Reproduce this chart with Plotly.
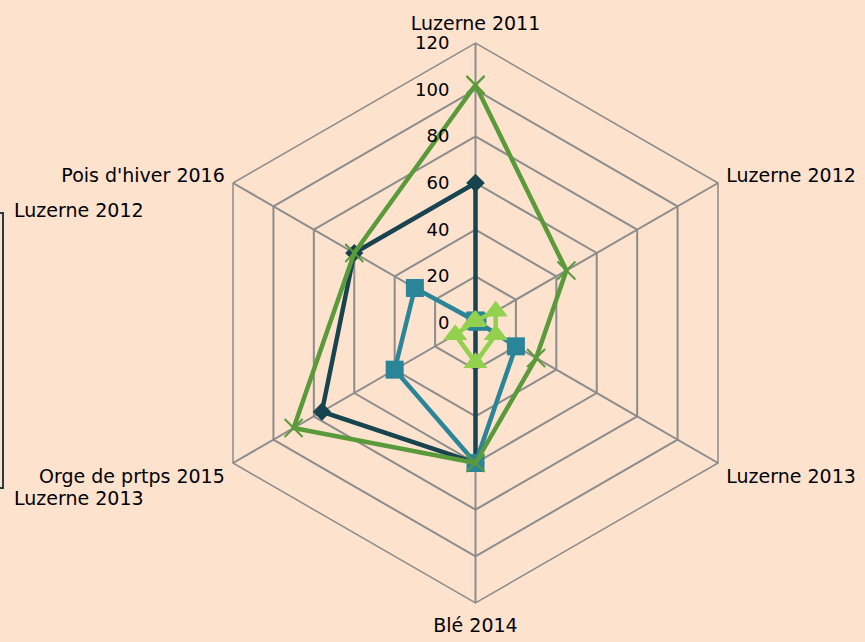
import plotly.graph_objects as go

categories = ["Luzerne 2011", "Luzerne 2012", "Luzerne 2013", "Blé 2014",
              "Orge de prtps 2015", "Pois d'hiver 2016"]
series_dark = [60, 0, 0, 60, 76, 60]
series_teal = [1, 1, 20, 60, 40, 30]
series_green = [102, 45, 30, 60, 90, 60]
series_light = [1, 10, 10, 17, 10, 1]
radial_ticks = [0, 20, 40, 60, 80, 100, 120]
legend_texts = ["Luzerne 2012", "Luzerne 2013"]

BG = "#FDE2CE"
GRID = "#8C8C8C"
FONT = "DejaVu Sans"

def closed(v):
    return list(v) + [v[0]]

theta = closed(categories)

# radial labels: right-padded with nbsp so they sit left of the vertical axis
radial_text = [str(v) + "\u00a0" * 4 for v in radial_ticks]

fig = go.Figure()
fig.add_trace(go.Scatterpolar(
    r=closed(series_dark), theta=theta, mode="lines+markers",
    line=dict(color="#17444F", width=4.5),
    marker=dict(symbol="diamond", size=14, color="#17444F"),
    name="s1"))
fig.add_trace(go.Scatterpolar(
    r=closed(series_teal), theta=theta, mode="lines+markers",
    line=dict(color="#2A8599", width=4.5),
    marker=dict(symbol="square", size=18, color="#2A8599"),
    name="s2"))
fig.add_trace(go.Scatterpolar(
    r=closed(series_green), theta=theta, mode="lines+markers",
    line=dict(color="#5B9A3A", width=4.5),
    marker=dict(symbol="x-thin", size=18, line=dict(color="#5B9A3A", width=2)),
    name="s3"))
fig.add_trace(go.Scatterpolar(
    r=closed(series_light), theta=theta, mode="lines+markers",
    line=dict(color="#92D050", width=4.5),
    marker=dict(symbol="triangle-up", size=21, color="#92D050"),
    name="s4"))

W, H = 865, 642
cx, cy, R = 475.5, 323, 280
fig.update_layout(
    width=W, height=H,
    paper_bgcolor=BG, plot_bgcolor=BG,
    margin=dict(l=0, r=0, t=0, b=0),
    showlegend=False,
    font=dict(family=FONT, size=19, color="#000000"),
    polar=dict(
        bgcolor=BG,
        gridshape="linear",
        domain=dict(x=[(cx - R) / W, (cx + R) / W],
                    y=[1 - (cy + R) / H, 1 - (cy - R) / H]),
        radialaxis=dict(range=[0, 120], tickvals=radial_ticks, ticktext=radial_text,
                        angle=90, side="counterclockwise", tickangle=90,
                        showline=False, ticks="", gridcolor=GRID, gridwidth=1.5,
                        tickfont=dict(family=FONT, size=18)),
        angularaxis=dict(rotation=90, direction="clockwise",
                         categoryorder="array", categoryarray=categories,
                         showline=True, linecolor=GRID, linewidth=1.5,
                         gridcolor=GRID, gridwidth=1.5,
                         ticks="outside", ticklen=5, tickcolor="rgba(0,0,0,0)",
                         tickfont=dict(family=FONT, size=19)),
    ),
    shapes=[dict(type="rect", xref="paper", yref="paper",
                 x0=-0.02, x1=3 / W, y0=1 - 488 / H, y1=1 - 213 / H,
                 line=dict(color="#1F3F48", width=2), fillcolor="rgba(0,0,0,0)")],
    annotations=[
        dict(text=legend_texts[0], x=12 / W, y=1 - 210 / H, xref="paper", yref="paper",
             xanchor="left", yanchor="middle", showarrow=False,
             font=dict(family=FONT, size=19)),
        dict(text=legend_texts[1], x=12 / W, y=1 - 498 / H, xref="paper", yref="paper",
             xanchor="left", yanchor="middle", showarrow=False,
             font=dict(family=FONT, size=19)),
    ],
)
fig.write_html("out.html", config={"displayModeBar": False},
               post_script="document.body.style.margin='0px';"
                           "document.body.style.background='" + BG + "';")
